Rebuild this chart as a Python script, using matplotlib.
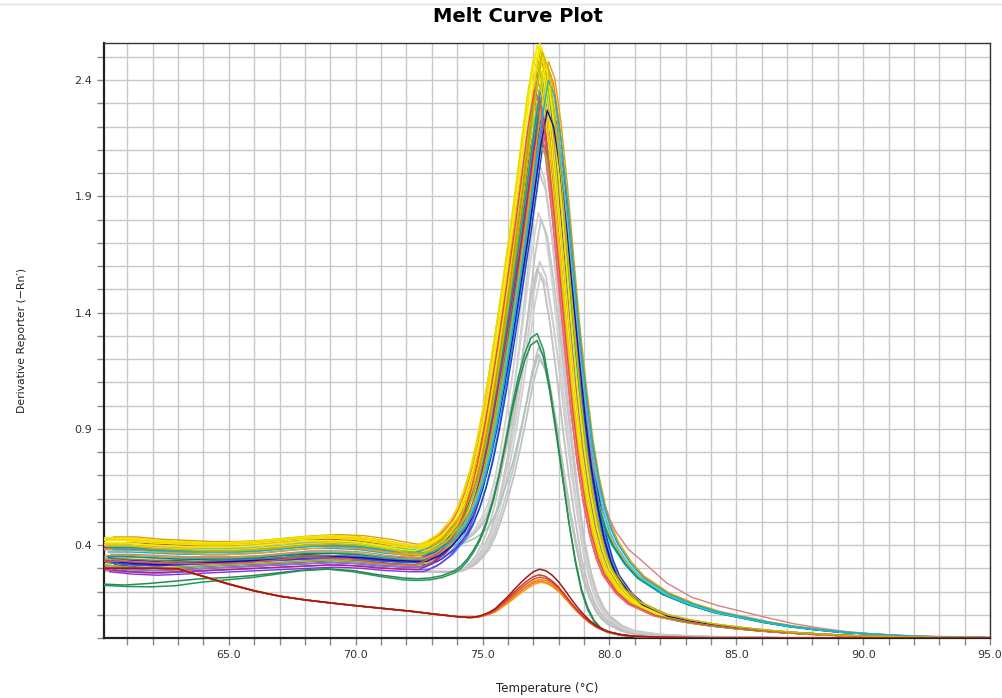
import numpy as np
import matplotlib.pyplot as plt
from matplotlib.ticker import MultipleLocator, FixedLocator, FormatStrFormatter

# temperature grid the curves were read at (deg C)
temps = [60.1, 61, 62, 63, 64, 65, 66, 67, 68, 69, 70, 71, 72, 72.5, 73, 73.5,
         74, 74.25, 74.5, 74.75, 75, 75.25, 75.5, 75.75, 76, 76.25, 76.5, 76.75,
         77, 77.25, 77.5, 77.75, 78, 78.25, 78.5, 78.75, 79, 79.25, 79.5, 79.75,
         80, 80.5, 81, 82, 83, 84, 85, 86, 87, 88, 89, 90, 91, 92, 93, 94, 95]

# baselines (pre-melt signal) of the main group: high / mid / low
base_hi = [0.42, 0.42, 0.41, 0.405, 0.40, 0.40, 0.405, 0.415, 0.425, 0.43, 0.425, 0.41, 0.39, 0.385, 0.39, 0.395,
           0.395, 0.39, 0.385, 0.375, 0.365, 0.35, 0.335, 0.32, 0.30, 0.28, 0.26, 0.24,
           0.21, 0.19, 0.17, 0.15, 0.13, 0.11, 0.09, 0.07, 0.055, 0.04, 0.03, 0.02,
           0.015, 0.01, 0.005, 0, 0, 0, 0, 0, 0, 0, 0, 0, 0, 0, 0, 0, 0]
base_mid = [0.37, 0.37, 0.365, 0.36, 0.36, 0.36, 0.365, 0.375, 0.385, 0.385, 0.38, 0.365, 0.355, 0.355, 0.36, 0.365,
            0.365, 0.36, 0.355, 0.35, 0.34, 0.33, 0.32, 0.31, 0.29, 0.27, 0.25, 0.23,
            0.21, 0.19, 0.17, 0.15, 0.13, 0.11, 0.09, 0.07, 0.055, 0.04, 0.03, 0.02,
            0.015, 0.01, 0.005, 0, 0, 0, 0, 0, 0, 0, 0, 0, 0, 0, 0, 0, 0]
base_lo = [0.315, 0.305, 0.30, 0.305, 0.31, 0.315, 0.32, 0.325, 0.33, 0.335, 0.33, 0.32, 0.315, 0.315, 0.325, 0.34,
           0.345, 0.345, 0.34, 0.335, 0.325, 0.315, 0.305, 0.295, 0.28, 0.26, 0.24, 0.22,
           0.20, 0.18, 0.16, 0.14, 0.12, 0.10, 0.085, 0.065, 0.05, 0.04, 0.03, 0.02,
           0.015, 0.01, 0.005, 0, 0, 0, 0, 0, 0, 0, 0, 0, 0, 0, 0, 0, 0]
# how much of a well's own baseline offset survives across the melt
base_fade = [1, 1, 1, 1, 1, 1, 1, 1, 1, 1, 1, 1, 1, 1, 1, 1,
             1, 0.98, 0.95, 0.9, 0.85, 0.78, 0.7, 0.62, 0.55, 0.47, 0.4, 0.34,
             0.28, 0.23, 0.18, 0.14, 0.1, 0.07, 0.05, 0.03, 0.02, 0.01, 0.005, 0,
             0, 0, 0, 0, 0, 0, 0, 0, 0, 0, 0, 0, 0, 0, 0, 0, 0]

# melt peaks of the main group, 1.0 at the top: normal / slow tail / very slow tail
melt_main = [0, 0, 0, 0, 0, 0, 0, 0, 0, 0, 0, 0, 0, 0, 0.007, 0.02,
             0.048, 0.072, 0.106, 0.149, 0.204, 0.271, 0.348, 0.430, 0.520, 0.615, 0.710, 0.814,
             0.919, 1.0, 0.977, 0.900, 0.792, 0.665, 0.538, 0.421, 0.324, 0.249, 0.190, 0.149,
             0.120, 0.086, 0.066, 0.045, 0.034, 0.026, 0.020, 0.015, 0.011, 0.008, 0.0054, 0.0036, 0.0027, 0.0018, 0.0014, 0.0009, 0.0005]
melt_slow = [0, 0, 0, 0, 0, 0, 0, 0, 0, 0, 0, 0, 0, 0, 0.007, 0.02,
             0.048, 0.072, 0.106, 0.149, 0.204, 0.271, 0.348, 0.430, 0.520, 0.615, 0.710, 0.814,
             0.919, 1.0, 0.977, 0.900, 0.792, 0.665, 0.540, 0.440, 0.350, 0.285, 0.235, 0.200,
             0.175, 0.140, 0.115, 0.085, 0.065, 0.050, 0.040, 0.030, 0.022, 0.016, 0.011, 0.008, 0.005, 0.003, 0.002, 0.001, 0.0005]
melt_tail = [0, 0, 0, 0, 0, 0, 0, 0, 0, 0, 0, 0, 0, 0, 0.007, 0.02,
             0.048, 0.072, 0.106, 0.149, 0.204, 0.271, 0.348, 0.430, 0.520, 0.615, 0.710, 0.814,
             0.919, 1.0, 0.977, 0.900, 0.792, 0.670, 0.550, 0.450, 0.360, 0.310, 0.270, 0.240,
             0.215, 0.180, 0.160, 0.115, 0.085, 0.068, 0.055, 0.042, 0.030, 0.021, 0.014, 0.009, 0.006, 0.004, 0.003, 0.002, 0.001]

# main coloured wells: colour, peak height, peak offset (deg C), baseline, baseline offset, tail
main_colors = ["#c8a060", "#e07080", "#d02828", "#9cb830", "#30c0e0", "#20b2aa", "#ff9900", "#3cb44b",
               "#1e90ff", "#2040c0", "#5020c0", "#8a2be2", "#c03090", "#e0609a", "#b03030", "#a0522d",
               "#808000", "#6b8e23", "#ffb000", "#e6c200", "#ff7f00", "#2e8b57", "#008b8b", "#4682b4",
               "#9370db", "#ff6070", "#cd5c5c", "#daa520", "#b8b000", "#7fbf3f", "#00a0a0", "#4040ff",
               "#f4a460", "#c71585", "#e8a000", "#90c020", "#d88080", "#40c8e8", "#ffd700", "#f0d000",
               "#ffe000", "#f5e800", "#f8f000", "#e8e000", "#1010a0", "#e05050", "#10b0d0", "#c0c000"]
main_peaks = [2.42, 2.30, 2.26, 2.50, 2.36, 2.38, 2.47, 2.45,
              2.31, 2.29, 2.24, 2.26, 2.27, 2.34, 2.22, 2.40,
              2.48, 2.44, 2.50, 2.52, 2.46, 2.15, 2.37, 2.33,
              2.21, 2.32, 2.28, 2.49, 2.53, 2.43, 2.39, 2.30,
              2.41, 2.23, 2.48, 2.12, 2.25, 2.35, 2.54, 2.51,
              2.55, 2.56, 2.53, 2.49, 2.27, 2.36, 2.40, 2.52]
main_shift = [-0.3, -0.25, -0.1, 0.0, 0.25, 0.15, 0.05, 0.0,
              0.35, 0.4, 0.15, 0.2, 0.0, -0.2, 0.05, -0.1,
              0.05, -0.05, 0.1, 0.0, 0.3, 0.05, 0.15, 0.3,
              0.1, -0.25, -0.05, 0.2, 0.05, 0.1, 0.1, 0.25,
              -0.15, 0.0, 0.35, 0.05, 0.25, 0.3, 0.0, -0.2,
              -0.1, 0.0, -0.15, -0.25, 0.3, -0.2, 0.35, 0.1]
main_base = [1, 1, 2, 1, 2, 1, 0, 1,
             2, 2, 2, 2, 1, 1, 2, 1,
             0, 1, 0, 0, 1, 2, 1, 2,
             2, 1, 2, 0, 0, 1, 1, 2,
             1, 2, 0, 2, 1, 1, 0, 0,
             0, 0, 0, 0, 2, 1, 1, 0]
main_off = [0.01, -0.02, 0.02, 0.03, -0.01, 0.0, -0.03, 0.02,
            -0.02, 0.0, 0.03, -0.03, 0.02, 0.015, -0.01, 0.04,
            -0.02, -0.03, 0.01, -0.01, 0.02, 0.01, -0.02, 0.02,
            -0.01, 0.03, 0.0, -0.04, 0.0, -0.015, 0.02, 0.01,
            0.03, -0.02, 0.015, 0.0, -0.01, 0.025, -0.02, 0.01,
            0.0, 0.01, -0.01, 0.005, 0.015, -0.04, 0.01, -0.025]
main_tail = [0, 0, 0, 0, 1, 1, 1, 0,
             0, 0, 0, 0, 0, 0, 0, 0,
             0, 0, 1, 0, 1, 0, 1, 0,
             0, 0, 0, 0, 0, 0, 1, 0,
             0, 0, 1, 0, 2, 1, 0, 0,
             0, 0, 0, 0, 0, 0, 1, 0]

# grey wells (lower yield)
gray_base_lo = [0.29, 0.285, 0.28, 0.285, 0.29, 0.30, 0.31, 0.32, 0.33, 0.335, 0.33, 0.32, 0.30, 0.29, 0.285, 0.285,
                0.285, 0.28, 0.275, 0.27, 0.26, 0.25, 0.24, 0.23, 0.21, 0.19, 0.17, 0.15,
                0.13, 0.11, 0.09, 0.07, 0.055, 0.04, 0.03, 0.02, 0.015, 0.01, 0.008, 0.005,
                0.003, 0, 0, 0, 0, 0, 0, 0, 0, 0, 0, 0, 0, 0, 0, 0, 0]
gray_base_hi = [0.33, 0.33, 0.33, 0.34, 0.35, 0.36, 0.37, 0.39, 0.41, 0.43, 0.435, 0.42, 0.40, 0.39, 0.39, 0.40,
                0.40, 0.395, 0.39, 0.38, 0.36, 0.34, 0.32, 0.30, 0.27, 0.24, 0.21, 0.18,
                0.15, 0.12, 0.10, 0.08, 0.06, 0.045, 0.035, 0.025, 0.018, 0.012, 0.008, 0.005,
                0.003, 0, 0, 0, 0, 0, 0, 0, 0, 0, 0, 0, 0, 0, 0, 0, 0]
gray_melt = [0, 0, 0, 0, 0, 0, 0, 0, 0, 0, 0, 0, 0, 0, 0, 0,
             0.0, 0.01, 0.025, 0.045, 0.08, 0.12, 0.18, 0.26, 0.36, 0.47, 0.60, 0.74,
             0.89, 1.0, 0.97, 0.87, 0.74, 0.59, 0.45, 0.33, 0.22, 0.15, 0.10, 0.07,
             0.05, 0.028, 0.016, 0.008, 0.005, 0.003, 0.002, 0.001, 0, 0, 0, 0, 0, 0, 0, 0, 0]
gray_colors = ["#cfcfcf", "#c8c8c8", "#d2d2d2", "#c4c4c4", "#cccccc", "#c0c0c0",
               "#d0d0d0", "#c6c6c6", "#b0c4bc", "#c2c2c2"]
gray_peaks = [2.05, 2.00, 1.83, 1.80, 1.62, 1.59, 1.57, 1.25, 1.22, 1.20]
gray_shift = [-0.05, 0.0, -0.05, 0.05, 0.0, -0.1, 0.05, -0.05, -0.05, 0.0]
gray_base = [1, 0, 1, 0, 0, 1, 0, 0, 1, 0]

# two green wells with low plateau
green_a = [0.227, 0.222, 0.22, 0.225, 0.24, 0.25, 0.26, 0.275, 0.29, 0.296, 0.285, 0.266, 0.25, 0.248, 0.25, 0.26,
           0.28, 0.30, 0.33, 0.37, 0.42, 0.49, 0.58, 0.70, 0.84, 0.99, 1.12, 1.22,
           1.29, 1.31, 1.24, 1.08, 0.90, 0.70, 0.50, 0.33, 0.20, 0.12, 0.07, 0.04,
           0.025, 0.012, 0.007, 0.004, 0.002, 0.001, 0, 0, 0, 0, 0, 0, 0, 0, 0, 0, 0]
green_b = [0.232, 0.228, 0.235, 0.245, 0.255, 0.26, 0.268, 0.28, 0.292, 0.298, 0.29, 0.272, 0.258, 0.255, 0.258, 0.268,
           0.29, 0.31, 0.34, 0.38, 0.43, 0.50, 0.59, 0.70, 0.83, 0.97, 1.09, 1.19,
           1.26, 1.28, 1.21, 1.06, 0.88, 0.69, 0.50, 0.34, 0.21, 0.13, 0.075, 0.045,
           0.028, 0.014, 0.008, 0.004, 0.002, 0.001, 0, 0, 0, 0, 0, 0, 0, 0, 0, 0, 0]
green_colors = ["#1f9a5a", "#2a8a50"]

# red / orange wells (non-specific product)
red_base = [0.30, 0.30, 0.30, 0.298, 0.265, 0.232, 0.203, 0.18, 0.164, 0.151, 0.139, 0.128, 0.117, 0.111, 0.104, 0.098,
            0.092, 0.089, 0.086, 0.084, 0.082, 0.079, 0.076, 0.074, 0.071, 0.068, 0.065, 0.062,
            0.060, 0.057, 0.055, 0.052, 0.050, 0.045, 0.040, 0.035, 0.030, 0.025, 0.020, 0.016,
            0.012, 0.007, 0.004, 0.002, 0.001, 0, 0, 0, 0, 0, 0, 0, 0, 0, 0, 0, 0]
red_melt = [0, 0, 0, 0, 0, 0, 0, 0, 0, 0, 0, 0, 0, 0, 0, 0,
            0.0, 0.004, 0.01, 0.03, 0.07, 0.13, 0.21, 0.33, 0.45, 0.59, 0.72, 0.84,
            0.94, 1.0, 0.98, 0.91, 0.80, 0.67, 0.53, 0.40, 0.29, 0.20, 0.135, 0.09,
            0.06, 0.03, 0.015, 0.005, 0.002, 0, 0, 0, 0, 0, 0, 0, 0, 0, 0, 0, 0]
red_colors = ["#ff9a20", "#f08c10", "#ff8000", "#d05050", "#c83c28", "#a01818"]
red_peaks = [0.24, 0.245, 0.252, 0.262, 0.272, 0.296]
red_shift = [0.05, 0.0, 0.02, 0.0, -0.03, 0.0]

fig = plt.figure(figsize=(10.02, 6.98), dpi=100)
ax = fig.add_axes([104 / 1002, 1 - 638 / 698, 886 / 1002, 595 / 698])

t = np.array(temps)
fade = np.array(base_fade)
bases_main = [np.array(base_hi), np.array(base_mid), np.array(base_lo)]
melts_main = [np.array(melt_main), np.array(melt_slow), np.array(melt_tail)]
bases_gray = [np.array(gray_base_lo), np.array(gray_base_hi)]

# grey first, they sit under everything
for c, p, s, b in zip(gray_colors, gray_peaks, gray_shift, gray_base):
    base = bases_gray[b]
    amp = p - base[29]
    ax.plot(t + s, base + amp * np.array(gray_melt), color=c, lw=1.3, zorder=2)

for c, p, s, b, o, m in zip(main_colors, main_peaks, main_shift, main_base, main_off, main_tail):
    base = bases_main[b] + o * fade
    amp = p - base[29]
    ax.plot(t + s, base + amp * melts_main[m], color=c, lw=1.0, zorder=3)

for c, y in zip(green_colors, [green_a, green_b]):
    ax.plot(t - 0.1, y, color=c, lw=1.1, zorder=4)

for c, p, s in zip(red_colors, red_peaks, red_shift):
    amp = p - red_base[29]
    ax.plot(t + s, np.array(red_base) + amp * np.array(red_melt), color=c, lw=1.1, zorder=4)

ax.set_xlim(60.08, 95.0)
ax.set_ylim(0.0, 2.56)
ax.xaxis.set_major_locator(MultipleLocator(5))
ax.xaxis.set_minor_locator(MultipleLocator(1))
ax.xaxis.set_major_formatter(FormatStrFormatter("%.1f"))
ax.yaxis.set_major_locator(FixedLocator([0.4, 0.9, 1.4, 1.9, 2.4]))
ax.yaxis.set_minor_locator(MultipleLocator(0.1))
ax.yaxis.set_major_formatter(FormatStrFormatter("%.1f"))
ax.grid(True, which="both", color="#c8c8c8", lw=1.0, zorder=0)
ax.set_axisbelow(True)
ax.tick_params(which="both", direction="out", length=5, width=1, color="#888888",
               labelsize=8, labelcolor="#333333")
for side in ["top", "right"]:
    ax.spines[side].set_linewidth(1.0)
    ax.spines[side].set_color("#333333")
for side in ["left", "bottom"]:
    ax.spines[side].set_linewidth(1.6)
    ax.spines[side].set_color("#222222")

ax.set_xlabel("Temperature (°C)", fontsize=8.5, color="#222222")
ax.set_ylabel("Derivative Reporter (−Rn′)", fontsize=7.8, color="#222222")
ax.xaxis.set_label_coords(0.5, -0.074)
ax.yaxis.set_label_coords(-0.087, 0.5)

fig.text(518 / 1002, 1 - 17 / 698, "Melt Curve Plot", fontsize=14, fontweight="bold",
         ha="center", va="center")
fig.add_artist(plt.Line2D([0, 1], [1 - 4 / 698, 1 - 4 / 698], color="#e4e4e4", lw=1))

fig.savefig("out.png", dpi=100)
